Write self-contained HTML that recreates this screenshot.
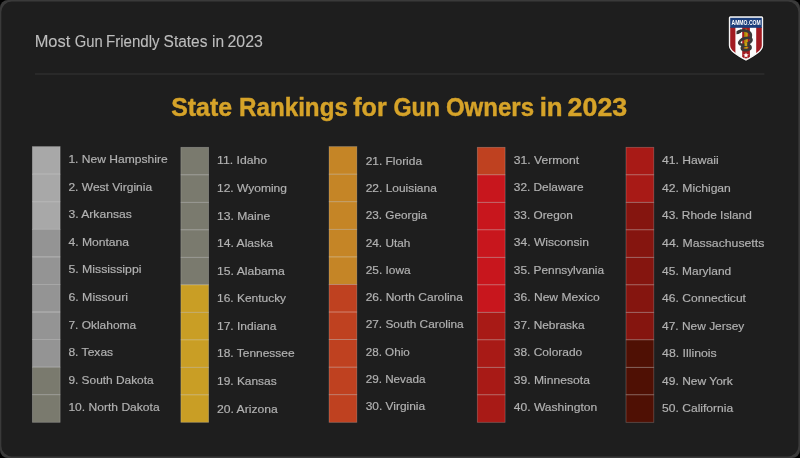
<!DOCTYPE html>
<html><head><meta charset="utf-8"><title>Most Gun Friendly States in 2023</title>
<style>
html,body{margin:0;padding:0;background:#000;}
body{width:800px;height:458px;overflow:hidden;font-family:"Liberation Sans",sans-serif;}
svg{display:block;will-change:transform;}
text{font-family:"Liberation Sans",sans-serif;}
</style></head><body>
<svg width="800" height="458" viewBox="0 0 800 458">
<rect x="0" y="0" width="800" height="458" fill="#000"/>
<rect x="0" y="0" width="800" height="458" rx="8" ry="8" fill="#3a3a3a"/>
<rect x="1.3" y="1.6" width="797.1" height="454.8" rx="10.5" ry="10.5" fill="#1e1e1e"/>

<text transform="matrix(0.9668 0.0004 0 1 34.67 46.7)" font-size="17" fill="#bdbdbd" stroke="#bdbdbd" stroke-width="0.12">Most</text>
<text transform="matrix(0.8714 0.0004 0 1 74.69 46.7)" font-size="17" fill="#bdbdbd" stroke="#bdbdbd" stroke-width="0.12">Gun</text>
<text transform="matrix(0.8881 0.0004 0 1 105.98 46.7)" font-size="17" fill="#bdbdbd" stroke="#bdbdbd" stroke-width="0.12">Friendly</text>
<text transform="matrix(0.912 0.0004 0 1 163.57 46.7)" font-size="17" fill="#bdbdbd" stroke="#bdbdbd" stroke-width="0.12">States</text>
<text transform="matrix(0.9136 0.0004 0 1 211.97 46.7)" font-size="17" fill="#bdbdbd" stroke="#bdbdbd" stroke-width="0.12">in</text>
<text transform="matrix(0.9352 0.0004 0 1 227.48 46.7)" font-size="17" fill="#bdbdbd" stroke="#bdbdbd" stroke-width="0.12">2023</text>
<rect x="35" y="73.5" width="729.4" height="1" fill="#353535"/>

<text transform="matrix(0.9402 0.0004 0 1 171.19 116.1)" font-size="26.5" font-weight="bold" fill="#d6a329" stroke="#d6a329" stroke-width="0.45">State</text>
<text transform="matrix(0.9134 0.0004 0 1 239.0 116.1)" font-size="26.5" font-weight="bold" fill="#d6a329" stroke="#d6a329" stroke-width="0.45">Rankings</text>
<text transform="matrix(0.9455 0.0004 0 1 353.28 116.1)" font-size="26.5" font-weight="bold" fill="#d6a329" stroke="#d6a329" stroke-width="0.45">for</text>
<text transform="matrix(0.8776 0.0004 0 1 393.41 116.1)" font-size="26.5" font-weight="bold" fill="#d6a329" stroke="#d6a329" stroke-width="0.45">Gun</text>
<text transform="matrix(0.9074 0.0004 0 1 445.88 116.1)" font-size="26.5" font-weight="bold" fill="#d6a329" stroke="#d6a329" stroke-width="0.45">Owners</text>
<text transform="matrix(0.975 0.0004 0 1 539.67 116.1)" font-size="26.5" font-weight="bold" fill="#d6a329" stroke="#d6a329" stroke-width="0.45">in</text>
<text transform="matrix(1.0109 0.0004 0 1 567.62 116.1)" font-size="26.5" font-weight="bold" fill="#d6a329" stroke="#d6a329" stroke-width="0.45">2023</text>


<!-- logo shield -->
<g>
<path d="M728.2,17.6 Q728.2,15.6 730.2,15.6 L761.8,15.6 Q763.8,15.6 763.8,17.6 L763.8,45.5 C763.8,51.5 757,55.3 746,61.5 C735,55.3 728.2,51.5 728.2,45.5 Z" fill="#111" fill-opacity="0.9"/>
<path id="shO" d="M728.8,17.7 Q728.8,16.2 730.3,16.2 L761.7,16.2 Q763.2,16.2 763.2,17.7 L763.2,45.5 C763.2,51 756.5,54.8 746,60.8 C735.5,54.8 728.8,51 728.8,45.5 Z" fill="#f4f4f4"/>
<clipPath id="shC"><path d="M730.2,17.6 L761.8,17.6 L761.8,45.5 C761.8,50.2 755.8,53.6 746,59.2 C736.2,53.6 730.2,50.2 730.2,45.5 Z"/></clipPath>
<g clip-path="url(#shC)">
<rect x="730" y="17" width="33" height="43" fill="#fbfbfb"/>
<rect x="730" y="27" width="5.4" height="30" fill="#a21b21"/>
<rect x="756.2" y="27" width="6" height="30" fill="#a21b21"/>
<path d="M742.2,27 L749.9,27 L749.9,57.2 Q746,59.6 742.2,57.2 Z" fill="#a31a20"/>
<path d="M728,48 L746,59.5 L764,48 L764,62 L728,62 Z" fill="#fbfbfb" fill-opacity="0"/>
<rect x="730" y="17.6" width="33" height="10.2" fill="#1b3e7b"/>
</g>
<!-- white margin at the bottom diagonal to cut outer stripes -->
<path d="M730.3,46 Q730.3,49 733.4,51.1 L736,52.7 L735.4,49.3 L735.4,46 Z" fill="#fbfbfb" fill-opacity="0"/>
<text transform="matrix(0.64 0.0004 0 1 731.5 25.3)" font-size="7.9" font-weight="bold" fill="#fff">AMMO.COM</text>
<!-- bullet -->
<path d="M744.2,49.5 L744.2,32.5 Q744.4,29.6 746,28.2 Q747.6,29.6 747.8,32.5 L747.8,49.5 Z" fill="#caa012"/>
<rect x="744.2" y="30" width="1.3" height="19.5" fill="#8a6a08" fill-opacity="0.6"/>
<!-- snake -->
<g fill="none" stroke="#393939" stroke-width="2.7" stroke-linecap="round">
<path d="M738.3,32.2 C740.5,30.4 744.5,30.2 747.5,31.2 C750.5,32.3 751.3,35 750.6,37.6"/>
<ellipse cx="745.4" cy="41.3" rx="6.4" ry="3.1" transform="rotate(-18 745.4 41.3)"/>
<ellipse cx="746.2" cy="47.8" rx="4.4" ry="2.3" transform="rotate(-8 746.2 47.8)"/>
</g>
<path d="M736.6,31 L740.6,29.6 L741.2,32.6 L738.2,34 L736.4,34.2 Z" fill="#333"/>
<rect x="744.6" y="42.6" width="2.6" height="3.4" fill="#caa012"/>
<!-- star -->
<path d="M746,52.5 L746.75,54.35 L748.75,54.45 L747.2,55.7 L747.7,57.65 L746,56.55 L744.3,57.65 L744.8,55.7 L743.25,54.45 L745.25,54.35 Z" fill="#fff"/>
</g>

<rect x="32.35" y="146.60" width="27.8" height="27.62" fill="#a8a8a8"/>
<rect x="32.35" y="174.17" width="27.8" height="27.62" fill="#a8a8a8"/>
<rect x="32.35" y="201.74" width="27.8" height="27.62" fill="#a8a8a8"/>
<rect x="32.35" y="229.31" width="27.8" height="27.62" fill="#949494"/>
<rect x="32.35" y="256.88" width="27.8" height="27.62" fill="#949494"/>
<rect x="32.35" y="284.45" width="27.8" height="27.62" fill="#949494"/>
<rect x="32.35" y="312.02" width="27.8" height="27.62" fill="#949494"/>
<rect x="32.35" y="339.59" width="27.8" height="27.62" fill="#949494"/>
<rect x="32.35" y="367.16" width="27.8" height="27.62" fill="#7a7a6e"/>
<rect x="32.35" y="394.73" width="27.8" height="27.62" fill="#7a7a6e"/>
<rect x="32.35" y="146.60" width="27.8" height="27.57" fill="none" stroke="#fff" stroke-opacity="0.26" stroke-width="0.75"/>
<rect x="32.35" y="174.17" width="27.8" height="27.57" fill="none" stroke="#fff" stroke-opacity="0.26" stroke-width="0.75"/>
<rect x="32.35" y="201.74" width="27.8" height="27.57" fill="none" stroke="#fff" stroke-opacity="0.26" stroke-width="0.75"/>
<rect x="32.35" y="229.31" width="27.8" height="27.57" fill="none" stroke="#fff" stroke-opacity="0.26" stroke-width="0.75"/>
<rect x="32.35" y="256.88" width="27.8" height="27.57" fill="none" stroke="#fff" stroke-opacity="0.26" stroke-width="0.75"/>
<rect x="32.35" y="284.45" width="27.8" height="27.57" fill="none" stroke="#fff" stroke-opacity="0.26" stroke-width="0.75"/>
<rect x="32.35" y="312.02" width="27.8" height="27.57" fill="none" stroke="#fff" stroke-opacity="0.26" stroke-width="0.75"/>
<rect x="32.35" y="339.59" width="27.8" height="27.57" fill="none" stroke="#fff" stroke-opacity="0.26" stroke-width="0.75"/>
<rect x="32.35" y="367.16" width="27.8" height="27.57" fill="none" stroke="#fff" stroke-opacity="0.26" stroke-width="0.75"/>
<rect x="32.35" y="394.73" width="27.8" height="27.57" fill="none" stroke="#fff" stroke-opacity="0.26" stroke-width="0.75"/>
<text transform="matrix(1.0595 0.0004 0 1 68.40 163.000)" font-size="11.4" fill="#b2b2b2" stroke="#b2b2b2" stroke-width="0.18">1. New Hampshire</text>
<text transform="matrix(1.0553 0.0004 0 1 68.40 190.600)" font-size="11.4" fill="#b2b2b2" stroke="#b2b2b2" stroke-width="0.18">2. West Virginia</text>
<text transform="matrix(1.0650 0.0004 0 1 68.40 218.200)" font-size="11.4" fill="#b2b2b2" stroke="#b2b2b2" stroke-width="0.18">3. Arkansas</text>
<text transform="matrix(1.0652 0.0004 0 1 68.40 245.800)" font-size="11.4" fill="#b2b2b2" stroke="#b2b2b2" stroke-width="0.18">4. Montana</text>
<text transform="matrix(1.0788 0.0004 0 1 68.40 273.400)" font-size="11.4" fill="#b2b2b2" stroke="#b2b2b2" stroke-width="0.18">5. Mississippi</text>
<text transform="matrix(1.0833 0.0004 0 1 68.40 301.000)" font-size="11.4" fill="#b2b2b2" stroke="#b2b2b2" stroke-width="0.18">6. Missouri</text>
<text transform="matrix(1.0493 0.0004 0 1 68.40 328.600)" font-size="11.4" fill="#b2b2b2" stroke="#b2b2b2" stroke-width="0.18">7. Oklahoma</text>
<text transform="matrix(1.0595 0.0004 0 1 68.40 356.200)" font-size="11.4" fill="#b2b2b2" stroke="#b2b2b2" stroke-width="0.18">8. Texas</text>
<text transform="matrix(1.0434 0.0004 0 1 68.40 383.800)" font-size="11.4" fill="#b2b2b2" stroke="#b2b2b2" stroke-width="0.18">9. South Dakota</text>
<text transform="matrix(1.0595 0.0004 0 1 68.40 411.400)" font-size="11.4" fill="#b2b2b2" stroke="#b2b2b2" stroke-width="0.18">10. North Dakota</text>
<rect x="180.85" y="147.30" width="27.8" height="27.55" fill="#7a7a6e"/>
<rect x="180.85" y="174.80" width="27.8" height="27.55" fill="#7a7a6e"/>
<rect x="180.85" y="202.30" width="27.8" height="27.55" fill="#7a7a6e"/>
<rect x="180.85" y="229.80" width="27.8" height="27.55" fill="#7a7a6e"/>
<rect x="180.85" y="257.30" width="27.8" height="27.55" fill="#7a7a6e"/>
<rect x="180.85" y="284.80" width="27.8" height="27.55" fill="#c99e25"/>
<rect x="180.85" y="312.30" width="27.8" height="27.55" fill="#c99e25"/>
<rect x="180.85" y="339.80" width="27.8" height="27.55" fill="#c99e25"/>
<rect x="180.85" y="367.30" width="27.8" height="27.55" fill="#c99e25"/>
<rect x="180.85" y="394.80" width="27.8" height="27.55" fill="#c99e25"/>
<rect x="180.85" y="147.30" width="27.8" height="27.50" fill="none" stroke="#fff" stroke-opacity="0.26" stroke-width="0.75"/>
<rect x="180.85" y="174.80" width="27.8" height="27.50" fill="none" stroke="#fff" stroke-opacity="0.26" stroke-width="0.75"/>
<rect x="180.85" y="202.30" width="27.8" height="27.50" fill="none" stroke="#fff" stroke-opacity="0.26" stroke-width="0.75"/>
<rect x="180.85" y="229.80" width="27.8" height="27.50" fill="none" stroke="#fff" stroke-opacity="0.26" stroke-width="0.75"/>
<rect x="180.85" y="257.30" width="27.8" height="27.50" fill="none" stroke="#fff" stroke-opacity="0.26" stroke-width="0.75"/>
<rect x="180.85" y="284.80" width="27.8" height="27.50" fill="none" stroke="#fff" stroke-opacity="0.26" stroke-width="0.75"/>
<rect x="180.85" y="312.30" width="27.8" height="27.50" fill="none" stroke="#fff" stroke-opacity="0.26" stroke-width="0.75"/>
<rect x="180.85" y="339.80" width="27.8" height="27.50" fill="none" stroke="#fff" stroke-opacity="0.26" stroke-width="0.75"/>
<rect x="180.85" y="367.30" width="27.8" height="27.50" fill="none" stroke="#fff" stroke-opacity="0.26" stroke-width="0.75"/>
<rect x="180.85" y="394.80" width="27.8" height="27.50" fill="none" stroke="#fff" stroke-opacity="0.26" stroke-width="0.75"/>
<text transform="matrix(1.0735 0.0004 0 1 217.00 164.450)" font-size="11.4" fill="#b2b2b2" stroke="#b2b2b2" stroke-width="0.18">11. Idaho</text>
<text transform="matrix(1.0545 0.0004 0 1 217.00 192.010)" font-size="11.4" fill="#b2b2b2" stroke="#b2b2b2" stroke-width="0.18">12. Wyoming</text>
<text transform="matrix(1.0660 0.0004 0 1 217.00 219.570)" font-size="11.4" fill="#b2b2b2" stroke="#b2b2b2" stroke-width="0.18">13. Maine</text>
<text transform="matrix(1.0657 0.0004 0 1 217.00 247.130)" font-size="11.4" fill="#b2b2b2" stroke="#b2b2b2" stroke-width="0.18">14. Alaska</text>
<text transform="matrix(1.0698 0.0004 0 1 217.00 274.690)" font-size="11.4" fill="#b2b2b2" stroke="#b2b2b2" stroke-width="0.18">15. Alabama</text>
<text transform="matrix(1.0495 0.0004 0 1 217.00 302.250)" font-size="11.4" fill="#b2b2b2" stroke="#b2b2b2" stroke-width="0.18">16. Kentucky</text>
<text transform="matrix(1.0537 0.0004 0 1 217.00 329.810)" font-size="11.4" fill="#b2b2b2" stroke="#b2b2b2" stroke-width="0.18">17. Indiana</text>
<text transform="matrix(1.0506 0.0004 0 1 217.00 357.370)" font-size="11.4" fill="#b2b2b2" stroke="#b2b2b2" stroke-width="0.18">18. Tennessee</text>
<text transform="matrix(1.0480 0.0004 0 1 217.00 384.930)" font-size="11.4" fill="#b2b2b2" stroke="#b2b2b2" stroke-width="0.18">19. Kansas</text>
<text transform="matrix(1.0652 0.0004 0 1 217.00 412.504)" font-size="11.4" fill="#b2b2b2" stroke="#b2b2b2" stroke-width="0.18">20. Arizona</text>
<rect x="329.05" y="146.60" width="27.8" height="27.62" fill="#c58526"/>
<rect x="329.05" y="174.17" width="27.8" height="27.62" fill="#c58526"/>
<rect x="329.05" y="201.74" width="27.8" height="27.62" fill="#c58526"/>
<rect x="329.05" y="229.31" width="27.8" height="27.62" fill="#c58526"/>
<rect x="329.05" y="256.88" width="27.8" height="27.62" fill="#c58526"/>
<rect x="329.05" y="284.45" width="27.8" height="27.62" fill="#bf4120"/>
<rect x="329.05" y="312.02" width="27.8" height="27.62" fill="#bf4120"/>
<rect x="329.05" y="339.59" width="27.8" height="27.62" fill="#bf4120"/>
<rect x="329.05" y="367.16" width="27.8" height="27.62" fill="#bf4120"/>
<rect x="329.05" y="394.73" width="27.8" height="27.62" fill="#bf4120"/>
<rect x="329.05" y="146.60" width="27.8" height="27.57" fill="none" stroke="#fff" stroke-opacity="0.26" stroke-width="0.75"/>
<rect x="329.05" y="174.17" width="27.8" height="27.57" fill="none" stroke="#fff" stroke-opacity="0.26" stroke-width="0.75"/>
<rect x="329.05" y="201.74" width="27.8" height="27.57" fill="none" stroke="#fff" stroke-opacity="0.26" stroke-width="0.75"/>
<rect x="329.05" y="229.31" width="27.8" height="27.57" fill="none" stroke="#fff" stroke-opacity="0.26" stroke-width="0.75"/>
<rect x="329.05" y="256.88" width="27.8" height="27.57" fill="none" stroke="#fff" stroke-opacity="0.26" stroke-width="0.75"/>
<rect x="329.05" y="284.45" width="27.8" height="27.57" fill="none" stroke="#fff" stroke-opacity="0.26" stroke-width="0.75"/>
<rect x="329.05" y="312.02" width="27.8" height="27.57" fill="none" stroke="#fff" stroke-opacity="0.26" stroke-width="0.75"/>
<rect x="329.05" y="339.59" width="27.8" height="27.57" fill="none" stroke="#fff" stroke-opacity="0.26" stroke-width="0.75"/>
<rect x="329.05" y="367.16" width="27.8" height="27.57" fill="none" stroke="#fff" stroke-opacity="0.26" stroke-width="0.75"/>
<rect x="329.05" y="394.73" width="27.8" height="27.57" fill="none" stroke="#fff" stroke-opacity="0.26" stroke-width="0.75"/>
<text transform="matrix(1.0473 0.0004 0 1 365.70 164.500)" font-size="11.4" fill="#b2b2b2" stroke="#b2b2b2" stroke-width="0.18">21. Florida</text>
<text transform="matrix(1.0498 0.0004 0 1 365.70 191.980)" font-size="11.4" fill="#b2b2b2" stroke="#b2b2b2" stroke-width="0.18">22. Louisiana</text>
<text transform="matrix(1.0319 0.0004 0 1 365.70 219.460)" font-size="11.4" fill="#b2b2b2" stroke="#b2b2b2" stroke-width="0.18">23. Georgia</text>
<text transform="matrix(1.0366 0.0004 0 1 365.70 246.940)" font-size="11.4" fill="#b2b2b2" stroke="#b2b2b2" stroke-width="0.18">24. Utah</text>
<text transform="matrix(1.0442 0.0004 0 1 365.70 274.420)" font-size="11.4" fill="#b2b2b2" stroke="#b2b2b2" stroke-width="0.18">25. Iowa</text>
<text transform="matrix(1.0524 0.0004 0 1 365.70 300.550)" font-size="11.4" fill="#b2b2b2" stroke="#b2b2b2" stroke-width="0.18">26. North Carolina</text>
<text transform="matrix(1.0386 0.0004 0 1 365.70 328.020)" font-size="11.4" fill="#b2b2b2" stroke="#b2b2b2" stroke-width="0.18">27. South Carolina</text>
<text transform="matrix(1.0214 0.0004 0 1 365.70 355.504)" font-size="11.4" fill="#b2b2b2" stroke="#b2b2b2" stroke-width="0.18">28. Ohio</text>
<text transform="matrix(1.0257 0.0004 0 1 365.70 382.960)" font-size="11.4" fill="#b2b2b2" stroke="#b2b2b2" stroke-width="0.18">29. Nevada</text>
<text transform="matrix(1.0479 0.0004 0 1 365.70 410.430)" font-size="11.4" fill="#b2b2b2" stroke="#b2b2b2" stroke-width="0.18">30. Virginia</text>
<rect x="477.30" y="147.30" width="27.8" height="27.55" fill="#bf4120"/>
<rect x="477.30" y="174.80" width="27.8" height="27.55" fill="#c8161d"/>
<rect x="477.30" y="202.30" width="27.8" height="27.55" fill="#c8161d"/>
<rect x="477.30" y="229.80" width="27.8" height="27.55" fill="#c8161d"/>
<rect x="477.30" y="257.30" width="27.8" height="27.55" fill="#c8161d"/>
<rect x="477.30" y="284.80" width="27.8" height="27.55" fill="#c8161d"/>
<rect x="477.30" y="312.30" width="27.8" height="27.55" fill="#a81a16"/>
<rect x="477.30" y="339.80" width="27.8" height="27.55" fill="#a81a16"/>
<rect x="477.30" y="367.30" width="27.8" height="27.55" fill="#a81a16"/>
<rect x="477.30" y="394.80" width="27.8" height="27.55" fill="#a81a16"/>
<rect x="477.30" y="147.30" width="27.8" height="27.50" fill="none" stroke="#fff" stroke-opacity="0.26" stroke-width="0.75"/>
<rect x="477.30" y="174.80" width="27.8" height="27.50" fill="none" stroke="#fff" stroke-opacity="0.26" stroke-width="0.75"/>
<rect x="477.30" y="202.30" width="27.8" height="27.50" fill="none" stroke="#fff" stroke-opacity="0.26" stroke-width="0.75"/>
<rect x="477.30" y="229.80" width="27.8" height="27.50" fill="none" stroke="#fff" stroke-opacity="0.26" stroke-width="0.75"/>
<rect x="477.30" y="257.30" width="27.8" height="27.50" fill="none" stroke="#fff" stroke-opacity="0.26" stroke-width="0.75"/>
<rect x="477.30" y="284.80" width="27.8" height="27.50" fill="none" stroke="#fff" stroke-opacity="0.26" stroke-width="0.75"/>
<rect x="477.30" y="312.30" width="27.8" height="27.50" fill="none" stroke="#fff" stroke-opacity="0.26" stroke-width="0.75"/>
<rect x="477.30" y="339.80" width="27.8" height="27.50" fill="none" stroke="#fff" stroke-opacity="0.26" stroke-width="0.75"/>
<rect x="477.30" y="367.30" width="27.8" height="27.50" fill="none" stroke="#fff" stroke-opacity="0.26" stroke-width="0.75"/>
<rect x="477.30" y="394.80" width="27.8" height="27.50" fill="none" stroke="#fff" stroke-opacity="0.26" stroke-width="0.75"/>
<text transform="matrix(1.0648 0.0004 0 1 513.80 163.550)" font-size="11.4" fill="#b2b2b2" stroke="#b2b2b2" stroke-width="0.18">31. Vermont</text>
<text transform="matrix(1.0399 0.0004 0 1 513.80 191.090)" font-size="11.4" fill="#b2b2b2" stroke="#b2b2b2" stroke-width="0.18">32. Delaware</text>
<text transform="matrix(1.0365 0.0004 0 1 513.80 218.630)" font-size="11.4" fill="#b2b2b2" stroke="#b2b2b2" stroke-width="0.18">33. Oregon</text>
<text transform="matrix(1.0595 0.0004 0 1 513.80 246.170)" font-size="11.4" fill="#b2b2b2" stroke="#b2b2b2" stroke-width="0.18">34. Wisconsin</text>
<text transform="matrix(1.0406 0.0004 0 1 513.80 273.710)" font-size="11.4" fill="#b2b2b2" stroke="#b2b2b2" stroke-width="0.18">35. Pennsylvania</text>
<text transform="matrix(1.0595 0.0004 0 1 513.80 301.250)" font-size="11.4" fill="#b2b2b2" stroke="#b2b2b2" stroke-width="0.18">36. New Mexico</text>
<text transform="matrix(1.0450 0.0004 0 1 513.80 328.790)" font-size="11.4" fill="#b2b2b2" stroke="#b2b2b2" stroke-width="0.18">37. Nebraska</text>
<text transform="matrix(1.0494 0.0004 0 1 513.80 356.330)" font-size="11.4" fill="#b2b2b2" stroke="#b2b2b2" stroke-width="0.18">38. Colorado</text>
<text transform="matrix(1.0641 0.0004 0 1 513.80 383.870)" font-size="11.4" fill="#b2b2b2" stroke="#b2b2b2" stroke-width="0.18">39. Minnesota</text>
<text transform="matrix(1.0595 0.0004 0 1 513.80 411.410)" font-size="11.4" fill="#b2b2b2" stroke="#b2b2b2" stroke-width="0.18">40. Washington</text>
<rect x="626.00" y="147.30" width="27.8" height="27.55" fill="#a81a16"/>
<rect x="626.00" y="174.80" width="27.8" height="27.55" fill="#a81a16"/>
<rect x="626.00" y="202.30" width="27.8" height="27.55" fill="#85150f"/>
<rect x="626.00" y="229.80" width="27.8" height="27.55" fill="#85150f"/>
<rect x="626.00" y="257.30" width="27.8" height="27.55" fill="#85150f"/>
<rect x="626.00" y="284.80" width="27.8" height="27.55" fill="#85150f"/>
<rect x="626.00" y="312.30" width="27.8" height="27.55" fill="#85150f"/>
<rect x="626.00" y="339.80" width="27.8" height="27.55" fill="#4f1004"/>
<rect x="626.00" y="367.30" width="27.8" height="27.55" fill="#4f1004"/>
<rect x="626.00" y="394.80" width="27.8" height="27.55" fill="#4f1004"/>
<rect x="626.00" y="147.30" width="27.8" height="27.50" fill="none" stroke="#fff" stroke-opacity="0.26" stroke-width="0.75"/>
<rect x="626.00" y="174.80" width="27.8" height="27.50" fill="none" stroke="#fff" stroke-opacity="0.26" stroke-width="0.75"/>
<rect x="626.00" y="202.30" width="27.8" height="27.50" fill="none" stroke="#fff" stroke-opacity="0.26" stroke-width="0.75"/>
<rect x="626.00" y="229.80" width="27.8" height="27.50" fill="none" stroke="#fff" stroke-opacity="0.26" stroke-width="0.75"/>
<rect x="626.00" y="257.30" width="27.8" height="27.50" fill="none" stroke="#fff" stroke-opacity="0.26" stroke-width="0.75"/>
<rect x="626.00" y="284.80" width="27.8" height="27.50" fill="none" stroke="#fff" stroke-opacity="0.26" stroke-width="0.75"/>
<rect x="626.00" y="312.30" width="27.8" height="27.50" fill="none" stroke="#fff" stroke-opacity="0.26" stroke-width="0.75"/>
<rect x="626.00" y="339.80" width="27.8" height="27.50" fill="none" stroke="#fff" stroke-opacity="0.26" stroke-width="0.75"/>
<rect x="626.00" y="367.30" width="27.8" height="27.50" fill="none" stroke="#fff" stroke-opacity="0.26" stroke-width="0.75"/>
<rect x="626.00" y="394.80" width="27.8" height="27.50" fill="none" stroke="#fff" stroke-opacity="0.26" stroke-width="0.75"/>
<text transform="matrix(1.0656 0.0004 0 1 662.10 164.300)" font-size="11.4" fill="#b2b2b2" stroke="#b2b2b2" stroke-width="0.18">41. Hawaii</text>
<text transform="matrix(1.0646 0.0004 0 1 662.10 191.875)" font-size="11.4" fill="#b2b2b2" stroke="#b2b2b2" stroke-width="0.18">42. Michigan</text>
<text transform="matrix(1.0404 0.0004 0 1 662.10 219.450)" font-size="11.4" fill="#b2b2b2" stroke="#b2b2b2" stroke-width="0.18">43. Rhode Island</text>
<text transform="matrix(1.0767 0.0004 0 1 662.10 247.025)" font-size="11.4" fill="#b2b2b2" stroke="#b2b2b2" stroke-width="0.18">44. Massachusetts</text>
<text transform="matrix(1.0495 0.0004 0 1 662.10 274.600)" font-size="11.4" fill="#b2b2b2" stroke="#b2b2b2" stroke-width="0.18">45. Maryland</text>
<text transform="matrix(1.0595 0.0004 0 1 662.10 302.175)" font-size="11.4" fill="#b2b2b2" stroke="#b2b2b2" stroke-width="0.18">46. Connecticut</text>
<text transform="matrix(1.0469 0.0004 0 1 662.10 329.750)" font-size="11.4" fill="#b2b2b2" stroke="#b2b2b2" stroke-width="0.18">47. New Jersey</text>
<text transform="matrix(1.0789 0.0004 0 1 662.10 357.325)" font-size="11.4" fill="#b2b2b2" stroke="#b2b2b2" stroke-width="0.18">48. Illinois</text>
<text transform="matrix(1.0546 0.0004 0 1 662.10 384.900)" font-size="11.4" fill="#b2b2b2" stroke="#b2b2b2" stroke-width="0.18">49. New York</text>
<text transform="matrix(1.0595 0.0004 0 1 662.10 412.459)" font-size="11.4" fill="#b2b2b2" stroke="#b2b2b2" stroke-width="0.18">50. California</text>
</svg>
</body></html>
